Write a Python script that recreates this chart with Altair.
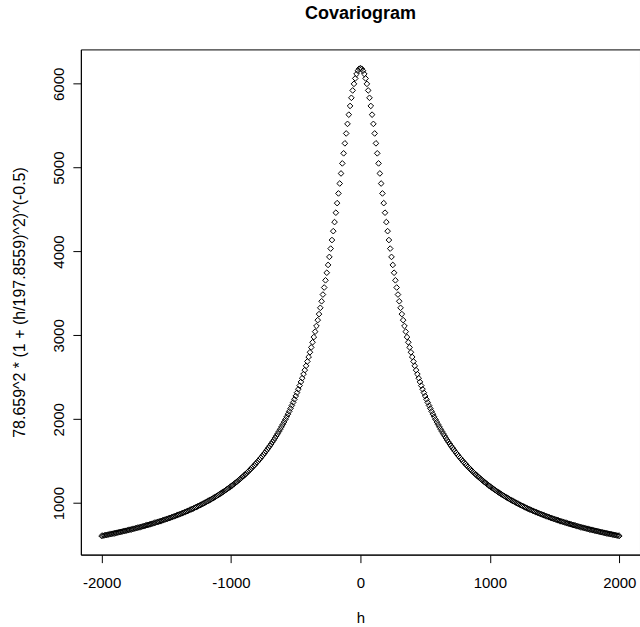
import altair as alt
import pandas as pd

# lag distances h
h = [
    -2000, -1990, -1980, -1970, -1960, -1950, -1940, -1930, -1920, -1910,
    -1900, -1890, -1880, -1870, -1860, -1850, -1840, -1830, -1820, -1810,
    -1800, -1790, -1780, -1770, -1760, -1750, -1740, -1730, -1720, -1710,
    -1700, -1690, -1680, -1670, -1660, -1650, -1640, -1630, -1620, -1610,
    -1600, -1590, -1580, -1570, -1560, -1550, -1540, -1530, -1520, -1510,
    -1500, -1490, -1480, -1470, -1460, -1450, -1440, -1430, -1420, -1410,
    -1400, -1390, -1380, -1370, -1360, -1350, -1340, -1330, -1320, -1310,
    -1300, -1290, -1280, -1270, -1260, -1250, -1240, -1230, -1220, -1210,
    -1200, -1190, -1180, -1170, -1160, -1150, -1140, -1130, -1120, -1110,
    -1100, -1090, -1080, -1070, -1060, -1050, -1040, -1030, -1020, -1010,
    -1000, -990, -980, -970, -960, -950, -940, -930, -920, -910,
    -900, -890, -880, -870, -860, -850, -840, -830, -820, -810,
    -800, -790, -780, -770, -760, -750, -740, -730, -720, -710,
    -700, -690, -680, -670, -660, -650, -640, -630, -620, -610,
    -600, -590, -580, -570, -560, -550, -540, -530, -520, -510,
    -500, -490, -480, -470, -460, -450, -440, -430, -420, -410,
    -400, -390, -380, -370, -360, -350, -340, -330, -320, -310,
    -300, -290, -280, -270, -260, -250, -240, -230, -220, -210,
    -200, -190, -180, -170, -160, -150, -140, -130, -120, -110,
    -100, -90, -80, -70, -60, -50, -40, -30, -20, -10,
    0,
    10, 20, 30, 40, 50, 60, 70, 80, 90, 100,
    110, 120, 130, 140, 150, 160, 170, 180, 190, 200,
    210, 220, 230, 240, 250, 260, 270, 280, 290, 300,
    310, 320, 330, 340, 350, 360, 370, 380, 390, 400,
    410, 420, 430, 440, 450, 460, 470, 480, 490, 500,
    510, 520, 530, 540, 550, 560, 570, 580, 590, 600,
    610, 620, 630, 640, 650, 660, 670, 680, 690, 700,
    710, 720, 730, 740, 750, 760, 770, 780, 790, 800,
    810, 820, 830, 840, 850, 860, 870, 880, 890, 900,
    910, 920, 930, 940, 950, 960, 970, 980, 990, 1000,
    1010, 1020, 1030, 1040, 1050, 1060, 1070, 1080, 1090, 1100,
    1110, 1120, 1130, 1140, 1150, 1160, 1170, 1180, 1190, 1200,
    1210, 1220, 1230, 1240, 1250, 1260, 1270, 1280, 1290, 1300,
    1310, 1320, 1330, 1340, 1350, 1360, 1370, 1380, 1390, 1400,
    1410, 1420, 1430, 1440, 1450, 1460, 1470, 1480, 1490, 1500,
    1510, 1520, 1530, 1540, 1550, 1560, 1570, 1580, 1590, 1600,
    1610, 1620, 1630, 1640, 1650, 1660, 1670, 1680, 1690, 1700,
    1710, 1720, 1730, 1740, 1750, 1760, 1770, 1780, 1790, 1800,
    1810, 1820, 1830, 1840, 1850, 1860, 1870, 1880, 1890, 1900,
    1910, 1920, 1930, 1940, 1950, 1960, 1970, 1980, 1990, 2000,
]

# covariance values
cov = [
    609, 612, 615, 618, 621, 625, 628, 631, 634, 638,
    641, 644, 648, 651, 654, 658, 662, 665, 669, 672,
    676, 680, 684, 687, 691, 695, 699, 703, 707, 711,
    715, 719, 724, 728, 732, 737, 741, 746, 750, 755,
    759, 764, 769, 774, 779, 783, 788, 794, 799, 804,
    809, 814, 820, 825, 831, 837, 842, 848, 854, 860,
    866, 872, 878, 884, 891, 897, 904, 910, 917, 924,
    931, 938, 945, 952, 960, 967, 975, 983, 990, 998,
    1007, 1015, 1023, 1032, 1040, 1049, 1058, 1067, 1076, 1086,
    1095, 1105, 1115, 1125, 1135, 1146, 1156, 1167, 1178, 1189,
    1201, 1213, 1224, 1237, 1249, 1262, 1274, 1288, 1301, 1315,
    1329, 1343, 1357, 1372, 1387, 1403, 1419, 1435, 1451, 1468,
    1486, 1503, 1521, 1540, 1559, 1578, 1598, 1619, 1640, 1661,
    1683, 1705, 1729, 1752, 1777, 1802, 1827, 1854, 1881, 1909,
    1938, 1967, 1998, 2029, 2061, 2094, 2129, 2164, 2200, 2238,
    2277, 2317, 2358, 2401, 2445, 2490, 2538, 2586, 2637, 2689,
    2743, 2799, 2857, 2918, 2980, 3045, 3112, 3182, 3254, 3329,
    3407, 3487, 3571, 3657, 3747, 3840, 3936, 4035, 4137, 4243,
    4351, 4463, 4577, 4693, 4811, 4931, 5051, 5171, 5290, 5408,
    5522, 5632, 5736, 5833, 5921, 5999, 6064, 6117, 6156, 6179,
    6187,
    6179, 6156, 6117, 6064, 5999, 5921, 5833, 5736, 5632, 5522,
    5408, 5290, 5171, 5051, 4931, 4811, 4693, 4577, 4463, 4351,
    4243, 4137, 4035, 3936, 3840, 3747, 3657, 3571, 3487, 3407,
    3329, 3254, 3182, 3112, 3045, 2980, 2918, 2857, 2799, 2743,
    2689, 2637, 2586, 2538, 2490, 2445, 2401, 2358, 2317, 2277,
    2238, 2200, 2164, 2129, 2094, 2061, 2029, 1998, 1967, 1938,
    1909, 1881, 1854, 1827, 1802, 1777, 1752, 1729, 1705, 1683,
    1661, 1640, 1619, 1598, 1578, 1559, 1540, 1521, 1503, 1486,
    1468, 1451, 1435, 1419, 1403, 1387, 1372, 1357, 1343, 1329,
    1315, 1301, 1288, 1274, 1262, 1249, 1237, 1224, 1213, 1201,
    1189, 1178, 1167, 1156, 1146, 1135, 1125, 1115, 1105, 1095,
    1086, 1076, 1067, 1058, 1049, 1040, 1032, 1023, 1015, 1007,
    998, 990, 983, 975, 967, 960, 952, 945, 938, 931,
    924, 917, 910, 904, 897, 891, 884, 878, 872, 866,
    860, 854, 848, 842, 837, 831, 825, 820, 814, 809,
    804, 799, 794, 788, 783, 779, 774, 769, 764, 759,
    755, 750, 746, 741, 737, 732, 728, 724, 719, 715,
    711, 707, 703, 699, 695, 691, 687, 684, 680, 676,
    672, 669, 665, 662, 658, 654, 651, 648, 644, 641,
    638, 634, 631, 628, 625, 621, 618, 615, 612, 609,
]

x_ticks = [-2000, -1000, 0, 1000, 2000]
y_ticks = [1000, 2000, 3000, 4000, 5000, 6000]

title_text = "Covariogram"
x_title = "h"
y_title = "78.659^2 * (1 + (h/197.8559)^2)^(-0.5)"

df = pd.DataFrame({"h": h, "cov": cov})

FONT = "Liberation Sans"
FS = 15

chart = alt.Chart(df).mark_point(
    shape="diamond", filled=False, size=32, color="black",
    strokeWidth=1, opacity=1
).encode(
    x=alt.X(
        "h:Q",
        scale=alt.Scale(domain=[-2160, 2160], nice=False, zero=False),
        axis=alt.Axis(
            values=x_ticks, title=x_title, grid=False,
            domainColor="black", tickColor="black", tickSize=8,
            labelFont=FONT, labelFontSize=FS, labelColor="black",
            labelBaseline="top", labelPadding=13, labelFlush=False,
            labelExpr="'' + datum.value",
            titleFont=FONT, titleFontSize=FS, titleFontWeight="normal",
            titleColor="black", titleY=63, titleBaseline="middle",
        ),
    ),
    y=alt.Y(
        "cov:Q",
        scale=alt.Scale(domain=[386, 6410], nice=False, zero=False),
        axis=alt.Axis(
            values=y_ticks, title=y_title, grid=False,
            domainColor="black", tickColor="black", tickSize=8,
            labelFont=FONT, labelFontSize=FS, labelColor="black",
            labelAngle=270, labelAlign="center", labelBaseline="alphabetic",
            labelPadding=9, labelFlush=False,
            labelExpr="'' + datum.value",
            titleFont=FONT, titleFontSize=16, titleFontWeight="normal",
            titleColor="black", titleX=-61, titleBaseline="middle",
            titleAlign="center",
        ),
    ),
).properties(
    width=560,
    height=506,
    title=alt.TitleParams(
        title_text, font=FONT, fontSize=18, fontWeight="bold",
        color="black", anchor="middle", baseline="alphabetic", offset=12,
    ),
    autosize="none",
    padding={"left": 81, "top": 49, "right": 0, "bottom": 72},
).configure_view(stroke="black", strokeWidth=1)

chart.save("out.html", embed_options={"renderer": "svg", "actions": False})
